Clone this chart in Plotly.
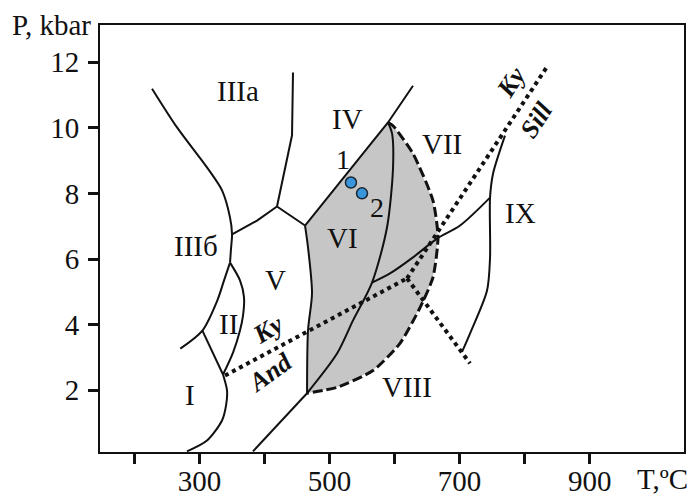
import plotly.graph_objects as go

# ---- axis ticks ----
t_ticks = [200, 300, 400, 500, 600, 700, 800, 900]
t_ticktext = ["", "300", "", "500", "", "700", "", "900"]
p_ticks = [2, 4, 6, 8, 10, 12]
p_ticktext = ["2", "4", "6", "8", "10", "12"]

# ---- field boundaries (T, °C ; P, kbar) ----
b_iiia_T = [227.2, 265.6, 311.7, 334.8, 347.1, 350.2, 348.6, 347.1]
b_iiia_P = [11.19, 10.01, 8.79, 8.09, 7.26, 6.75, 6.32, 5.89]

b_iiib_T = [347.1, 337.9, 327.6, 304.6, 270.7]
b_iiib_P = [5.89, 5.35, 4.74, 3.82, 3.27]

b_ii_T = [347.1, 362.4, 368.6, 367.1, 362.4, 351.7, 336.3]
b_ii_P = [5.89, 5.35, 4.83, 4.28, 3.82, 3.15, 2.48]

b_ii_i_T = [304.6, 336.3]
b_ii_i_P = [3.82, 2.48]

b_i_T = [336.3, 342.5, 341.0, 334.8, 311.7, 280.9]
b_i_P = [2.48, 1.99, 1.54, 1.08, 0.47, 0.14]

b_iiib_v_T = [350.2, 388.6, 419.3]
b_iiib_v_P = [6.75, 7.17, 7.60]

b_iiia_v_T = [443.9, 442.4, 419.3]
b_iiia_v_P = [11.68, 9.77, 7.60]

b_v_vi_T = [419.3, 462.4]
b_v_vi_P = [7.60, 7.02]

b_iv_vi_T = [462.4, 590.0, 628.4]
b_iv_vi_P = [7.02, 10.16, 11.28]

b_vi_left_T = [462.4, 467.0, 473.1, 467.0, 465.5]
b_vi_left_P = [7.02, 6.35, 4.96, 3.83, 1.91]

b_low_T = [465.5, 382.4]
b_low_P = [1.91, 0.14]

b_inner_T = [590.0, 596.2, 597.7, 588.4, 565.4, 536.2, 511.6, 465.5]
b_inner_P = [10.16, 9.82, 8.79, 6.96, 5.28, 4.13, 3.12, 1.91]

b_cross_T = [565.4, 593.0, 628.4, 665.3, 700.7, 746.8]
b_cross_P = [5.28, 5.56, 6.05, 6.62, 7.02, 7.87]

b_dash_T = [590.0, 597.7, 628.4, 659.1, 666.8, 659.1, 639.2, 608.4, 566.9, 511.6, 465.5]
b_dash_P = [10.16, 10.06, 9.21, 7.78, 6.66, 5.44, 4.52, 3.43, 2.60, 2.09, 1.91]

b_ix_T = [769.8, 751.4, 746.8, 746.8, 742.2, 716.0, 703.7]
b_ix_P = [9.76, 8.60, 7.87, 6.04, 5.04, 3.73, 3.17]

# ---- Al2SiO5 polymorph equilibria ----
ky_and_T = [339.4, 619.2]
ky_and_P = [2.45, 5.41]
ky_sill_T = [619.2, 835.9]
ky_sill_P = [5.41, 11.90]
and_sill_T = [619.2, 716.0]
and_sill_P = [5.41, 2.82]

# ---- samples ----
sample_T = [533.0, 550.0]
sample_P = [8.33, 8.00]
sample_names = ["1", "2"]
sample_label_T = [520.8, 573.1]
sample_label_P = [9.04, 7.57]

# ---- field labels ----
field_names = ["III\u0430", "IV", "VII", "VI", "III\u0431", "V", "IX", "II", "I", "VIII"]
field_T = [359.4, 527.7, 673.0, 519.3, 294.8, 416.3, 792.9, 344.0, 285.6, 619.2]
field_P = [11.11, 10.27, 9.50, 6.65, 6.41, 5.36, 7.39, 4.03, 1.87, 2.09]

FONT = "Liberation Serif, Times New Roman, serif"
BLACK = "#111111"
FS = 29

fig = go.Figure()

# shaded field: IV/VI line, dashed outer boundary, left boundary
shade_T = b_iv_vi_T[:2] + b_dash_T[1:] + b_vi_left_T[::-1][1:]
shade_P = b_iv_vi_P[:2] + b_dash_P[1:] + b_vi_left_P[::-1][1:]
fig.add_trace(go.Scatter(x=shade_T, y=shade_P, mode="lines", fill="toself",
                         fillcolor="#c6c6c6", line=dict(width=0),
                         hoverinfo="skip"))


def solid(xs, ys, smooth=True):
    fig.add_trace(go.Scatter(
        x=xs, y=ys, mode="lines",
        line=dict(color=BLACK, width=2, shape="spline" if smooth else "linear",
                  smoothing=0.8),
        hoverinfo="skip"))


solid(b_iiia_T, b_iiia_P)
solid(b_iiib_T, b_iiib_P)
solid(b_ii_T, b_ii_P)
solid(b_ii_i_T, b_ii_i_P, False)
solid(b_i_T, b_i_P)
solid(b_iiib_v_T, b_iiib_v_P, False)
solid(b_iiia_v_T, b_iiia_v_P, False)
solid(b_v_vi_T, b_v_vi_P, False)
solid(b_iv_vi_T, b_iv_vi_P, False)
solid(b_vi_left_T, b_vi_left_P)
solid(b_low_T, b_low_P, False)
solid(b_inner_T, b_inner_P)
solid(b_cross_T, b_cross_P)
solid(b_ix_T, b_ix_P)

# dashed outer boundary of the shaded field
fig.add_trace(go.Scatter(x=b_dash_T, y=b_dash_P, mode="lines",
                         line=dict(color=BLACK, width=3, dash="10px,4px",
                                   shape="spline", smoothing=0.6),
                         hoverinfo="skip"))

# dotted Al2SiO5 lines
for xs, ys in [(ky_and_T, ky_and_P), (ky_sill_T, ky_sill_P), (and_sill_T, and_sill_P)]:
    fig.add_trace(go.Scatter(x=xs, y=ys, mode="lines",
                             line=dict(color=BLACK, width=4, dash="4px,4px"),
                             hoverinfo="skip"))

# sample points
fig.add_trace(go.Scatter(x=sample_T, y=sample_P, mode="markers",
                         marker=dict(size=11, color="#3a96dc",
                                     line=dict(color="#1c2630", width=1.5)),
                         hoverinfo="skip"))

ann = []
for name, t, p in zip(field_names, field_T, field_P):
    ann.append(dict(x=t, y=p, text=name, showarrow=False,
                    font=dict(family=FONT, size=FS, color=BLACK)))

for name, t, p in zip(sample_names, sample_label_T, sample_label_P):
    ann.append(dict(x=t, y=p, text=name, showarrow=False,
                    font=dict(family=FONT, size=FS - 1, color=BLACK)))

# mineral labels along the dotted lines
mineral = [("Ky", 405.5, 3.85, -32), ("And", 408.6, 2.54, -36),
           ("Ky", 779.0, 11.38, -57), ("Sill", 817.5, 10.23, -57)]
for txt, t, p, ang in mineral:
    ann.append(dict(x=t, y=p, text="<b><i>" + txt + "</i></b>", showarrow=False,
                    textangle=ang, font=dict(family=FONT, size=26, color=BLACK)))

# axis titles
ann.append(dict(xref="paper", yref="paper", x=-0.012, y=1.0, xanchor="right",
                yanchor="middle", text="P, kbar", showarrow=False,
                font=dict(family=FONT, size=FS, color=BLACK)))
ann.append(dict(xref="paper", yref="paper", x=0.916, y=-0.063, xanchor="left",
                yanchor="middle", text="T,\u00baC", showarrow=False,
                font=dict(family=FONT, size=FS, color=BLACK)))

axis_common = dict(showgrid=False, zeroline=False, showline=True, linecolor=BLACK,
                   linewidth=2, mirror=True, ticks="outside", ticklen=10, tickwidth=3,
                   tickcolor=BLACK, automargin=False,
                   tickfont=dict(family=FONT, size=FS, color=BLACK))

fig.update_layout(
    width=692, height=496,
    margin=dict(l=100, r=8, t=25, b=44, autoexpand=False),
    paper_bgcolor="white", plot_bgcolor="white",
    showlegend=False,
    annotations=ann,
    xaxis=dict(range=[147.2, 1045], tickvals=t_ticks, ticktext=t_ticktext,
               ticklabelstandoff=-8, **axis_common),
    yaxis=dict(range=[0.12, 13.13], tickvals=p_ticks, ticktext=p_ticktext,
               ticklabelstandoff=3, **axis_common),
)

fig.write_html("out.html")
